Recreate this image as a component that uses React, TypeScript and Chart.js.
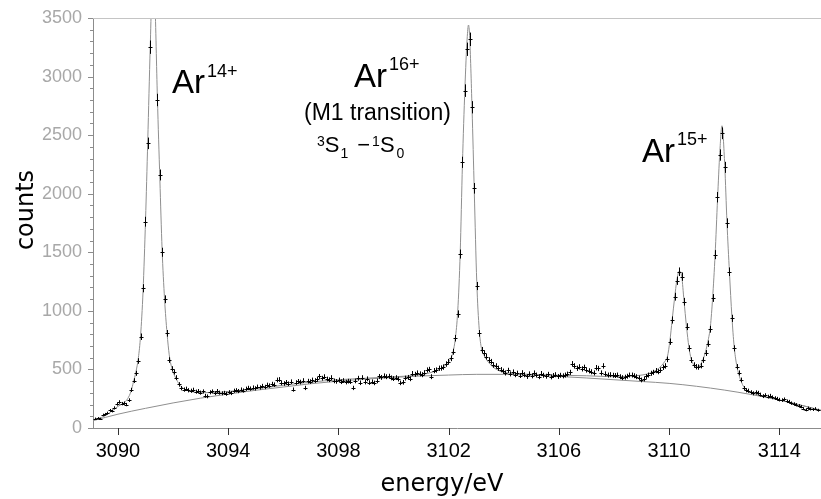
import { useEffect, useRef } from "react";
import { Chart, registerables } from "chart.js";

Chart.register(...registerables);

// Spectrometer binning: centre of the first bin and bin width, in eV
const firstBinEnergy = 3089.18;
const binWidth = 0.0865;

// Measured counts per bin
const counts: number[] = [
  80, 84, 78, 112, 118, 128, 150, 145, 172, 205,
  222, 208, 212, 200, 238, 325, 405, 467, 572, 779,
  1193, 1761, 2430, 3251, 3880, 3640, 2800, 2160, 1500, 1099,
  808, 580, 505, 478, 430, 372, 340, 328, 335, 322,
  318, 326, 310, 315, 302, 312, 275, 270, 305, 312,
  298, 315, 302, 296, 300, 292, 305, 298, 318, 322,
  315, 328, 320, 335, 342, 336, 345, 338, 352, 346,
  358, 350, 368, 362, 375, 370, 410, 414, 385, 380,
  390, 378, 395, 328, 388, 398, 392, 405, 342, 400,
  396, 410, 405, 415, 440, 425, 438, 418, 412, 430,
  402, 398, 410, 395, 405, 392, 400, 396, 342, 402,
  425, 386, 430, 392, 420, 388, 395, 385, 402, 440,
  432, 445, 438, 442, 428, 422, 430, 418, 385, 390,
  426, 432, 420, 465, 458, 470, 462, 455, 472, 495,
  500, 438, 490, 495, 510, 512, 520, 546, 566, 595,
  651, 766, 973, 1485, 2268, 2880, 3233, 3318, 2738, 2046,
  1212, 808, 666, 638, 609, 580, 566, 538, 530, 510,
  498, 485, 470, 492, 462, 478, 455, 468, 448, 472,
  455, 440, 462, 445, 470, 452, 438, 465, 450, 442,
  458, 436, 448, 455, 440, 450, 445, 452, 460, 475,
  548, 530, 510, 522, 505, 518, 495, 488, 480, 470,
  515, 508, 470, 530, 462, 452, 455, 450, 448, 452,
  438, 430, 434, 442, 452, 452, 446, 438, 428, 410,
  418, 440, 452, 467, 475, 490, 481, 495, 518, 530,
  586, 737, 922, 1121, 1257, 1334, 1292, 1078, 865, 680,
  580, 538, 523, 520, 532, 580, 640, 720, 843, 1110,
  1480, 1970, 2330, 2516, 2225, 1748, 1334, 936, 680, 523,
  470, 410, 340, 322, 318, 305, 296, 304, 300, 285,
  272, 280, 268, 275, 262, 255, 250, 242, 238, 245,
  228, 225, 212, 205, 198, 190, 182, 165, 155, 170,
  162, 158, 165, 152,
];

// Fitted spectrum (peaks on top of the background)
const fitEnergy: number[] = [
  3089.09, 3089.5, 3089.8, 3090.0, 3090.2, 3090.35, 3090.48, 3090.56, 3090.65, 3090.74,
  3090.82, 3090.91, 3091.0, 3091.08, 3091.17, 3091.27, 3091.34, 3091.43, 3091.52, 3091.6,
  3091.69, 3091.78, 3091.86, 3091.95, 3092.12, 3092.3, 3092.6, 3093.0, 3093.5, 3094.0,
  3095.0, 3096.0, 3097.0, 3098.0, 3099.0, 3100.0, 3100.7, 3101.3, 3101.6, 3101.9,
  3102.07, 3102.16, 3102.24, 3102.33, 3102.42, 3102.5, 3102.59, 3102.67, 3102.72, 3102.76,
  3102.85, 3102.93, 3103.02, 3103.11, 3103.19, 3103.3, 3103.5, 3103.8, 3104.2, 3105.0,
  3106.0, 3107.0, 3108.0, 3108.8, 3109.3, 3109.6, 3109.85, 3109.94, 3110.03, 3110.11,
  3110.2, 3110.28, 3110.37, 3110.46, 3110.54, 3110.63, 3110.72, 3110.8, 3110.89, 3110.98,
  3111.06, 3111.15, 3111.24, 3111.32, 3111.41, 3111.5, 3111.58, 3111.67, 3111.76, 3111.84,
  3111.92, 3112.02, 3112.1, 3112.19, 3112.28, 3112.36, 3112.45, 3112.54, 3112.62, 3112.71,
  3112.9, 3113.2, 3113.6, 3114.0, 3114.5, 3115.0, 3115.51,
];
const fitCounts: number[] = [
  70, 100, 148, 185, 212, 250, 318, 392, 478, 600,
  790, 1170, 1780, 2450, 3250, 3950, 3650, 2820, 2120, 1530,
  1100, 810, 625, 515, 415, 352, 316, 302, 302, 312,
  335, 365, 392, 412, 425, 437, 448, 470, 495, 540,
  590, 650, 760, 1000, 1500, 2250, 2900, 3320, 3440, 3350,
  2720, 2020, 1250, 840, 680, 615, 545, 492, 468, 458,
  450, 446, 438, 446, 468, 505, 570, 610, 745, 920,
  1110, 1260, 1340, 1290, 1090, 870, 690, 590, 540, 520,
  522, 545, 590, 650, 740, 870, 1110, 1480, 1960, 2350,
  2580, 2240, 1760, 1330, 950, 700, 540, 450, 395, 352,
  310, 285, 262, 240, 212, 182, 152,
];

// Smooth background under the lines
const backgroundEnergy: number[] = [
  3089.09, 3090, 3091, 3092, 3093, 3094, 3095, 3096, 3097, 3098,
  3099, 3100, 3101, 3102, 3103, 3104, 3105, 3106, 3107, 3108,
  3109, 3110, 3111, 3112, 3113, 3114, 3115, 3115.51,
];
const backgroundCounts: number[] = [
  62, 118, 168, 214, 255, 290, 322, 350, 378, 400,
  418, 432, 444, 452, 458, 458, 451, 440, 427, 412,
  397, 381, 356, 324, 285, 238, 182, 150,
];

const energyTicks = [3090, 3094, 3098, 3102, 3106, 3110, 3114];
const countTicks = [0, 500, 1000, 1500, 2000, 2500, 3000, 3500];
const countMinorStep = 100;

const ANN_FONT = "'Liberation Sans', Arial, sans-serif";
const TITLE_FONT = "'DejaVu Sans', sans-serif";

type Run = [string, number, number, number]; // text, size, baseline shift, gap after

function drawRuns(ctx: CanvasRenderingContext2D, x: number, y: number, runs: Run[]) {
  let cx = x;
  for (const [t, size, dy, gap] of runs) {
    ctx.font = `${size}px ${ANN_FONT}`;
    ctx.fillText(t, cx, y + dy);
    cx += ctx.measureText(t).width + gap;
  }
}

const decorations = {
  id: "decorations",
  afterDatasetsDraw(chart: any) {
    const { ctx, chartArea: a } = chart;
    const ys = chart.scales.y;
    const meta = chart.getDatasetMeta(2);
    ctx.save();
    ctx.beginPath();
    ctx.rect(a.left, a.top, a.right - a.left, a.bottom - a.top);
    ctx.clip();
    ctx.strokeStyle = "#000";
    ctx.lineWidth = 1;
    ctx.beginPath();
    meta.data.forEach((pt: any, i: number) => {
      const c = counts[i];
      const err = Math.sqrt(c); // Poisson uncertainty of a bin
      const x = Math.round(pt.x) + 0.5;
      const y = Math.round(pt.y) + 0.5;
      ctx.moveTo(x, ys.getPixelForValue(c - err));
      ctx.lineTo(x, ys.getPixelForValue(c + err));
      ctx.moveTo(x - 2, y);
      ctx.lineTo(x + 2, y);
    });
    ctx.stroke();
    ctx.restore();
  },
  afterDraw(chart: any) {
    const { ctx, chartArea: a } = chart;
    const xs = chart.scales.x;
    const ys = chart.scales.y;
    ctx.save();

    // frame line along the top
    ctx.strokeStyle = "#c4c4c4";
    ctx.lineWidth = 1;
    ctx.beginPath();
    ctx.moveTo(a.left, Math.round(a.top) + 0.5);
    ctx.lineTo(a.right, Math.round(a.top) + 0.5);
    ctx.stroke();

    // count axis ticks: long at labels, short in between
    ctx.strokeStyle = "#8c8c8c";
    ctx.beginPath();
    const top = countTicks[countTicks.length - 1];
    for (let v = 0; v <= top; v += countMinorStep) {
      const y = Math.round(ys.getPixelForValue(v)) + 0.5;
      const len = countTicks.includes(v) ? 5 : 3;
      ctx.moveTo(a.left - len, y);
      ctx.lineTo(a.left, y);
    }
    ctx.stroke();

    // energy axis ticks
    ctx.strokeStyle = "#333";
    ctx.beginPath();
    for (const v of energyTicks) {
      const x = Math.round(xs.getPixelForValue(v)) + 0.5;
      ctx.moveTo(x, a.bottom);
      ctx.lineTo(x, a.bottom + 7);
    }
    ctx.stroke();

    // axis titles
    ctx.fillStyle = "#000";
    ctx.font = `24px ${TITLE_FONT}`;
    ctx.textAlign = "center";
    ctx.textBaseline = "alphabetic";
    ctx.fillText("energy/eV", 442, 491);
    ctx.save();
    ctx.translate(33, 210);
    ctx.rotate(-Math.PI / 2);
    ctx.fillText("counts", 0, 0);
    ctx.restore();

    // line labels
    ctx.textAlign = "left";
    drawRuns(ctx, 172, 93, [["Ar", 33, 0, 2], ["14+", 18, -16, 0]]);
    drawRuns(ctx, 354, 87, [["Ar", 33, 0, 2], ["16+", 18, -17, 0]]);
    drawRuns(ctx, 642, 162, [["Ar", 33, 0, 2], ["15+", 18, -17, 0]]);

    ctx.font = `23px ${ANN_FONT}`;
    ctx.textAlign = "right";
    ctx.fillText("(M1 transition)", 451, 120);

    ctx.textAlign = "left";
    drawRuns(ctx, 317, 152, [
      ["3", 14, -6, 0],
      ["S", 22, 0, 1],
      ["1", 14, 6, 9],
      ["\u2212", 22, 0, 2],
      ["1", 14, -6, 0],
      ["S", 22, 0, 2],
      ["0", 14, 6, 0],
    ]);

    ctx.restore();
  },
};

export default function App() {
  const canvasRef = useRef<HTMLCanvasElement | null>(null);

  useEffect(() => {
    const canvas = canvasRef.current;
    if (!canvas) return;

    const points = counts.map((c, i) => ({ x: firstBinEnergy + i * binWidth, y: c }));
    const fit = fitEnergy.map((e, i) => ({ x: e, y: fitCounts[i] }));
    const background = backgroundEnergy.map((e, i) => ({ x: e, y: backgroundCounts[i] }));

    const chart = new Chart(canvas, {
      type: "scatter",
      data: {
        datasets: [
          {
            label: "background",
            data: background,
            showLine: true,
            borderColor: "#8f8f8f",
            borderWidth: 1,
            pointRadius: 0,
            cubicInterpolationMode: "monotone",
          },
          {
            label: "fit",
            data: fit,
            showLine: true,
            borderColor: "#8f8f8f",
            borderWidth: 1,
            pointRadius: 0,
            cubicInterpolationMode: "monotone",
          },
          {
            label: "counts",
            data: points,
            showLine: false,
            pointRadius: 0,
            pointHoverRadius: 0,
          },
        ],
      },
      options: {
        responsive: false,
        animation: false,
        events: [],
        layout: { padding: { top: 18, right: 0, bottom: 0, left: 0 } },
        plugins: {
          legend: { display: false },
          tooltip: { enabled: false },
          title: { display: false },
        },
        scales: {
          x: {
            type: "linear",
            min: 3089.093,
            max: 3115.513,
            afterBuildTicks: (s: any) => {
              s.ticks = energyTicks.map((v) => ({ value: v }));
            },
            afterFit: (s: any) => {
              s.height = 71;
            },
            grid: { display: false, drawTicks: true, tickLength: 7 },
            border: { display: true, color: "#8c8c8c", width: 1 },
            ticks: {
              color: "#000",
              font: { family: ANN_FONT, size: 20 },
              padding: 4,
              maxRotation: 0,
              autoSkip: false,
              callback: (v: any) => String(v),
            },
          },
          y: {
            type: "linear",
            min: 0,
            max: 3500,
            afterBuildTicks: (s: any) => {
              s.ticks = countTicks.map((v) => ({ value: v }));
            },
            afterFit: (s: any) => {
              s.width = 93;
            },
            grid: { display: false, drawTicks: true, tickLength: 5 },
            border: { display: true, color: "#8c8c8c", width: 1 },
            ticks: {
              color: "#a8a8a8",
              font: { family: ANN_FONT, size: 18 },
              padding: 6,
              autoSkip: false,
              callback: (v: any) => String(v),
            },
          },
        },
      },
      plugins: [decorations],
    });

    return () => chart.destroy();
  }, []);

  return (
    <div style={{ position: "absolute", left: 0, top: 0, width: 821, height: 499, background: "#fff" }}>
      <canvas ref={canvasRef} width={821} height={499} />
    </div>
  );
}
